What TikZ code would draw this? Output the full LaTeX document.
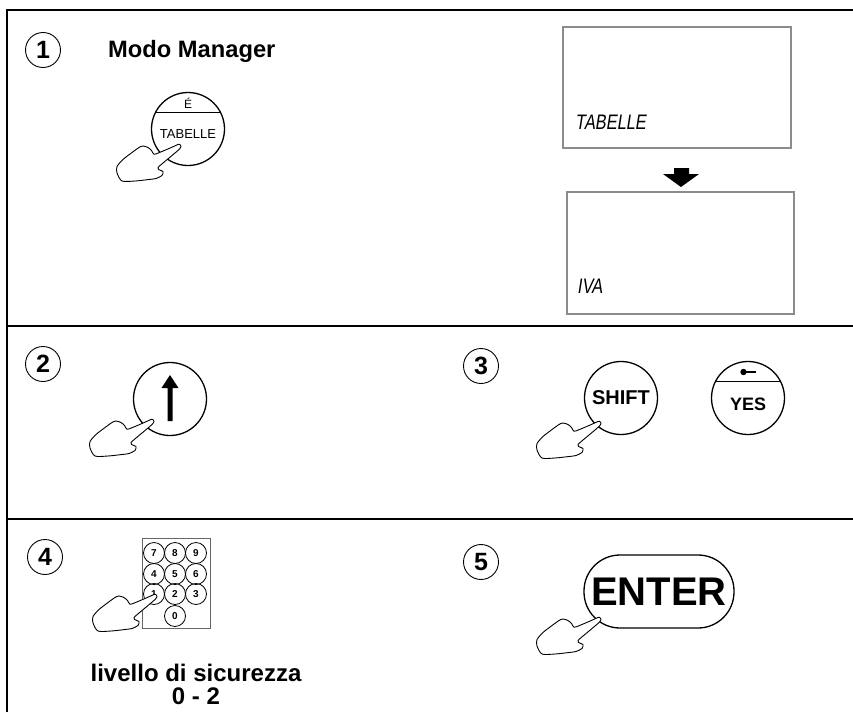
\documentclass[tikz,border=0pt]{standalone}
\usepackage{fontspec}
\setmainfont{Liberation Sans}
\newfontfamily\lcdfont[FakeSlant=0.2]{Liberation Sans}
\begin{document}
\begin{tikzpicture}[x=1pt,y=-1pt,
  frameline/.style={line width=2.2pt},
  stepnum/.style={circle, draw, line width=0.9pt, minimum size=35pt, inner sep=0pt,
    font=\fontsize{25}{25}\selectfont\bfseries},
  keycap/.style={circle, draw, line width=1.3pt, minimum size=73pt, inner sep=0pt},
  lcd/.style={draw=black!45, line width=1.2pt, inner sep=0pt},
  lcdtext/.style={anchor=base west, inner sep=0pt, font=\fontsize{21}{21}\lcdfont},
  padkey/.style={circle, draw, line width=0.8pt, minimum size=21pt, inner sep=0pt,
    font=\fontsize{10}{10}\selectfont\bfseries},
  lbl/.style={inner sep=0pt, font=\bfseries},
  hand/.pic={
    \draw[line width=0.9pt, fill=white, line join=round]
      plot[smooth cycle, tension=0.45] coordinates {
        (1,0.5) (-1,-1.8) (-8,1.2) (-20,6.3) (-26,8.3) (-28.5,4.5) (-32,1.5)
        (-37,0) (-41,1.5) (-50,8) (-57,13.5) (-63,20.5) (-63,27)
        (-58,35) (-45,35) (-31,33.5) (-24,32.5) (-18,29.5) (-17,25.5)
        (-21.5,23.5) (-22,21.5) (-17,17) (-8,9.5) (-1,3.5)};
  }]
\useasboundingbox (0,0) rectangle (853,712);

% panel frame and separators
\draw[frameline] (7,712) -- (7,10) -- (853,10);
\draw[frameline] (7,326) -- (853,326);
\draw[frameline] (7,519) -- (853,519);

% ---------- step 1 ----------
\node[stepnum] (s1) at (43,50) {1};
\node[lbl, anchor=base west, font=\fontsize{23.7}{24}\selectfont\bfseries] (title) at (108,57) {Modo Manager};

\node[keycap] (ktab) at (188,129) {};
\draw[line width=1pt] (ktab.center) ++(-31.7,-17) -- ++(63.4,0);
\node[inner sep=0pt, font=\fontsize{12}{12}\selectfont] (kacc) at (188,103) {É};
\node[inner sep=0pt, font=\fontsize{13}{13}\selectfont] (klab) at (188,134) {TABELLE};
\pic at (180,146) {hand};

\node[lcd, minimum width=228pt, minimum height=121pt] (lcd1) at (677,87.5) {};
\node[lcdtext] (t1) at (575,129) {\scalebox{0.78}[1]{TABELLE}};
\node[lcd, minimum width=227pt, minimum height=122pt] (lcd2) at (680.5,253) {};
\node[lcdtext] (t2) at (577,293) {\scalebox{0.78}[1]{IVA}};
% block arrow between the two displays
\fill (674,168) -- (689,168) -- (689,174) -- (699,174) -- (681,187) -- (663,174) -- (674,174) -- cycle;

% ---------- step 2 ----------
\node[stepnum] (s2) at (43,364) {2};
\node[keycap] (kup) at (170,399) {};
\fill (167.5,421) -- (172.5,421) -- (172.5,388) -- (178.5,388) -- (170,375) -- (161.5,388) -- (167.5,388) -- cycle;
\pic at (153,421) {hand};

% ---------- step 3 ----------
\node[stepnum] (s3) at (481,366) {3};
\node[keycap, font=\fontsize{20}{20}\selectfont\bfseries] (kshift) at (621,398) {SHIFT};
\pic at (600,423) {hand};

\node[keycap] (kyes) at (748,398) {};
\draw[line width=1pt] (kyes.center) ++(-32.9,-17) -- ++(65.8,0);
\fill (743.5,372) circle (3.2);
\draw[line width=1.2pt] (744,372) -- (756,372);
\node[inner sep=0pt, font=\fontsize{18}{18}\selectfont\bfseries] (yes) at (748,404) {YES};

% ---------- step 4 ----------
\node[stepnum] (s4) at (45,557) {4};
\node[draw=black!60, line width=0.9pt, minimum width=68pt, minimum height=90pt, inner sep=0pt] (pad) at (176,583) {};
\node[padkey] (p7) at (154,553) {7};
\node[padkey] (p8) at (175,553) {8};
\node[padkey] (p9) at (196,553) {9};
\node[padkey] (p4) at (154,574) {4};
\node[padkey] (p5) at (175,574) {5};
\node[padkey] (p6) at (196,574) {6};
\node[padkey] (p1) at (154,594) {1};
\node[padkey] (p2) at (175,594) {2};
\node[padkey] (p3) at (196,594) {3};
\node[padkey] (p0) at (175,616) {0};
\pic at (156,596) {hand};
\node[lbl, anchor=base, font=\fontsize{24}{24}\selectfont\bfseries] (lev1) at (196,681) {livello di sicurezza};
\node[lbl, anchor=base, font=\fontsize{24}{24}\selectfont\bfseries] (lev2) at (196,704) {0 - 2};

% ---------- step 5 ----------
\node[stepnum] (s5) at (481,562) {5};
\node[draw, line width=1.3pt, rounded corners=36pt, minimum width=150pt, minimum height=73pt,
  inner sep=0pt, font=\fontsize{40}{40}\selectfont\bfseries] (kenter) at (659,591.5) {ENTER};
\pic at (600,619) {hand};
\end{tikzpicture}
\end{document}
